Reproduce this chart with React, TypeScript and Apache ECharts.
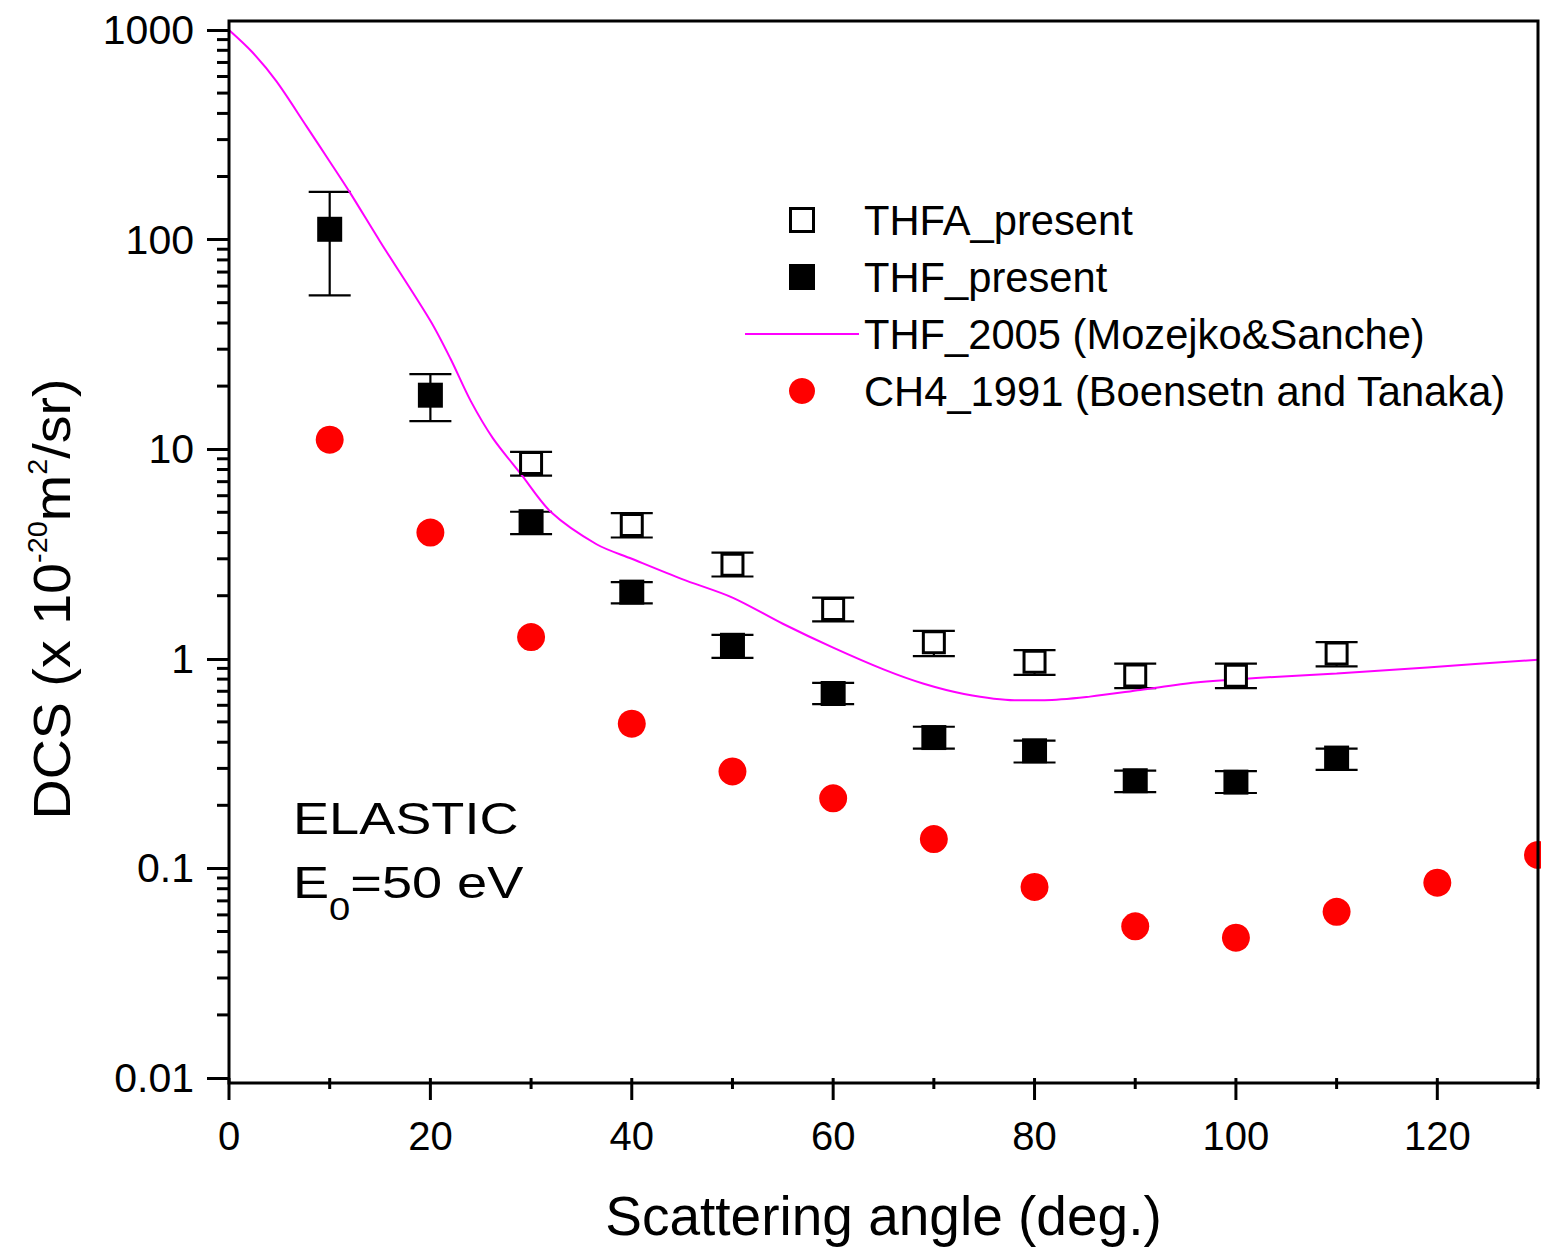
import React, { useEffect, useRef } from 'react';
import * as echarts from 'echarts';

const FONT = '"Liberation Sans", Arial, Helvetica, sans-serif';

// THFA_present (open squares)
const thfaAngles = [30, 40, 50, 60, 70, 80, 90, 100, 110];
const thfaValues = [8.6, 4.35, 2.81, 1.73, 1.2, 0.968, 0.832, 0.83, 1.06];
const thfaHigh = [9.7, 4.96, 3.21, 1.96, 1.36, 1.1, 0.948, 0.948, 1.2];
const thfaLow = [7.48, 3.79, 2.47, 1.51, 1.03, 0.838, 0.724, 0.724, 0.92];

// THF_present (filled squares)
const thfAngles = [10, 20, 30, 40, 50, 60, 70, 80, 90, 100, 110];
const thfValues = [112, 18.1, 4.51, 2.08, 1.16, 0.683, 0.421, 0.364, 0.262, 0.258, 0.336];
const thfHigh = [169, 22.8, 5.03, 2.32, 1.3, 0.767, 0.474, 0.407, 0.293, 0.291, 0.373];
const thfLow = [54.2, 13.6, 3.93, 1.84, 1.01, 0.608, 0.373, 0.32, 0.231, 0.229, 0.295];

// THF_2005 (Mozejko&Sanche) theory curve
const mozAngles = [0, 2.3, 4.7, 7.7, 10, 12, 15, 20, 22, 24, 26.2, 29, 32, 36.5, 40, 45, 50, 55, 60, 65, 69, 73, 78, 81, 85.5, 90.5, 96, 102, 110, 119, 130];
const mozValues = [1000, 785, 570, 347, 236, 168, 98, 41, 27, 17.0, 11.3, 7.6, 5.0, 3.52, 3.0, 2.4, 1.96, 1.47, 1.13, 0.89, 0.76, 0.68, 0.635, 0.635, 0.66, 0.71, 0.77, 0.81, 0.85, 0.91, 0.99];

// CH4_1991 (Boensetn and Tanaka)
const ch4Angles = [10, 20, 30, 40, 50, 60, 70, 80, 90, 100, 110, 120, 130];
const ch4Values = [11.1, 4.0, 1.27, 0.49, 0.29, 0.216, 0.138, 0.0816, 0.0529, 0.0467, 0.0621, 0.0855, 0.116];

// Axis ticks
const xMajorTicks = [0, 20, 40, 60, 80, 100, 120];
const xMinorTicks = [10, 30, 50, 70, 90, 110, 130];
const yDecades = [0.01, 0.1, 1, 10, 100];
const yMinorMantissas = [2, 3, 4, 5, 6, 7, 8, 9];
const yTickLabels = ['0.01', '0.1', '1', '10', '100', '1000'];

const names = ['THFA_present', 'THF_present', 'THF_2005 (Mozejko&Sanche)', 'CH4_1991 (Boensetn and Tanaka)'];

const tickRenderer = (dx1: number, dy1: number, dx2: number, dy2: number) =>
  (params: any, api: any) => {
    const p = api.coord([api.value(0), api.value(1)]);
    return {
      type: 'line',
      shape: { x1: p[0] + dx1, y1: p[1] + dy1, x2: p[0] + dx2, y2: p[1] + dy2 },
      style: { stroke: '#000', lineWidth: 3 },
    };
  };

const errRenderer = (params: any, api: any) => {
  const x = api.value(0);
  const lo = api.coord([x, api.value(1)]);
  const hi = api.coord([x, api.value(2)]);
  const hw = 21;
  const st = { stroke: '#000', lineWidth: 2.2 };
  return {
    type: 'group',
    children: [
      { type: 'line', shape: { x1: lo[0], y1: lo[1], x2: hi[0], y2: hi[1] }, style: st },
      { type: 'line', shape: { x1: lo[0] - hw, y1: lo[1], x2: lo[0] + hw, y2: lo[1] }, style: st },
      { type: 'line', shape: { x1: hi[0] - hw, y1: hi[1], x2: hi[0] + hw, y2: hi[1] }, style: st },
    ],
  };
};

export default function App() {
  const ref = useRef<HTMLDivElement>(null);
  useEffect(() => {
    if (!ref.current) return;
    const chart = echarts.init(ref.current, null, { renderer: 'svg' });

    const yMinor: number[][] = [];
    yDecades.forEach((d) => yMinorMantissas.forEach((m) => yMinor.push([0, +(m * d).toPrecision(3)])));

    const option: any = {
      animation: false,
      backgroundColor: '#fff',
      textStyle: { fontFamily: FONT },
      grid: { left: 229, top: 30, width: 1309, height: 1053 },
      xAxis: {
        type: 'value',
        min: 0,
        max: 130,
        interval: 20,
        axisLine: { show: false },
        axisTick: { show: false },
        splitLine: { show: false },
        axisLabel: { fontSize: 40, color: '#000', fontFamily: FONT, margin: 38, showMaxLabel: false },
        name: 'Scattering angle (deg.)',
        nameLocation: 'middle',
        nameGap: 110,
        nameTextStyle: { fontSize: 55, color: '#000', fontFamily: FONT },
      },
      yAxis: {
        type: 'log',
        logBase: 10,
        min: 0.01,
        max: 1000,
        splitNumber: 5,
        axisLine: { show: false },
        axisTick: { show: true, inside: false, length: 22, lineStyle: { color: '#000', width: 3 } },
        splitLine: { show: false },
        axisLabel: {
          fontSize: 41,
          color: '#000',
          fontFamily: FONT,
          margin: 35,
          formatter: (v: number) => {
            const i = Math.round(Math.log10(v)) + 2;
            return yTickLabels[i] ?? '';
          },
        },
      },
      legend: {
        orient: 'vertical',
        left: 745,
        top: 199,
        padding: 0,
        itemGap: 15,
        itemWidth: 114,
        itemHeight: 26,
        selectedMode: false,
        textStyle: { fontSize: 41.7, color: '#000', fontFamily: FONT },
        data: [
          {
            name: names[0],
            icon: 'path://M0,0L26,0L26,26L0,26Z M3,3L3,23L23,23L23,3Z',
            itemStyle: { color: '#000', borderWidth: 0, opacity: 1 },
          },
          {
            name: names[1],
            icon: 'path://M0,0L26,0L26,26L0,26Z',
            itemStyle: { color: '#000', borderWidth: 0, opacity: 1 },
          },
          {
            name: names[2],
            icon: 'path://M0,0L114,0L114,2.2L0,2.2Z',
            itemStyle: { color: '#ff00ff', borderWidth: 0, opacity: 1 },
          },
          {
            name: names[3],
            icon: 'circle',
            itemStyle: { color: '#ff0000', borderWidth: 0, opacity: 1 },
          },
        ],
      },
      graphic: [
        {
          type: 'rect',
          z: 100,
          silent: true,
          shape: { x: 229, y: 21, width: 1309, height: 1062 },
          style: { fill: 'none', stroke: '#000', lineWidth: 3 },
        },
        {
          type: 'text',
          x: 52,
          y: 599,
          rotation: Math.PI / 2,
          scaleX: 1.07,
          z: 50,
          style: {
            text: '{m|DCS (x 10}{s|-20}{m|m}{s|2}{m|/sr)}',
            fontFamily: FONT,
            fill: '#000',
            align: 'center',
            verticalAlign: 'middle',
            rich: {
              m: { fontSize: 52, lineHeight: 56, fontFamily: FONT, fill: '#000' },
              s: { fontSize: 27, lineHeight: 27, verticalAlign: 'top', fontFamily: FONT, fill: '#000' },
            },
          },
        },
        {
          type: 'text',
          x: 293,
          y: 818,
          scaleX: 1.23,
          z: 50,
          style: {
            text: 'ELASTIC',
            fontSize: 44,
            fontFamily: FONT,
            fill: '#000',
            align: 'left',
            verticalAlign: 'middle',
          },
        },
        {
          type: 'text',
          x: 293,
          y: 882,
          scaleX: 1.23,
          z: 50,
          style: {
            text: '{m|E}{s|0}{m|=50 eV}',
            fontFamily: FONT,
            fill: '#000',
            align: 'left',
            verticalAlign: 'middle',
            rich: {
              m: { fontSize: 44, lineHeight: 86, fontFamily: FONT, fill: '#000' },
              s: { fontSize: 31, lineHeight: 31, verticalAlign: 'bottom', fontFamily: FONT, fill: '#000' },
            },
          },
        },
      ],
      series: [
        {
          name: 'xMajorTicks',
          type: 'custom',
          silent: true,
          z: 20,
          renderItem: tickRenderer(0, 0, 0, 22),
          data: xMajorTicks.map((x) => [x, 0.01]),
        },
        {
          name: 'xMinorTicks',
          type: 'custom',
          silent: true,
          z: 20,
          renderItem: tickRenderer(0, 0, 0, 11),
          data: xMinorTicks.map((x) => [x, 0.01]),
        },
        {
          name: 'yMinorTicks',
          type: 'custom',
          silent: true,
          z: 20,
          renderItem: tickRenderer(-12, 0, 0, 0),
          data: yMinor,
        },
        {
          name: 'thfaErr',
          type: 'custom',
          silent: true,
          z: 2,
          renderItem: errRenderer,
          encode: { x: 0, y: [1, 2] },
          data: thfaAngles.map((a, i) => [a, thfaLow[i], thfaHigh[i]]),
        },
        {
          name: 'thfErr',
          type: 'custom',
          silent: true,
          z: 2,
          renderItem: errRenderer,
          encode: { x: 0, y: [1, 2] },
          data: thfAngles.map((a, i) => [a, thfLow[i], thfHigh[i]]),
        },
        {
          name: names[2],
          type: 'line',
          z: 3,
          symbol: 'none',
          smooth: 0.3,
          color: '#ff00ff',
          lineStyle: { color: '#ff00ff', width: 2 },
          data: mozAngles.map((a, i) => [a, mozValues[i]]),
        },
        {
          name: names[3],
          type: 'scatter',
          z: 4,
          symbol: 'circle',
          symbolSize: 28,
          itemStyle: { color: '#ff0000', opacity: 1 },
          data: ch4Angles.map((a, i) => [a, ch4Values[i]]),
        },
        {
          name: names[0],
          type: 'scatter',
          z: 5,
          symbol: 'rect',
          symbolSize: 21,
          itemStyle: { color: '#ffffff', borderColor: '#000', borderWidth: 3, opacity: 1 },
          data: thfaAngles.map((a, i) => [a, thfaValues[i]]),
        },
        {
          name: names[1],
          type: 'scatter',
          z: 5,
          symbol: 'rect',
          symbolSize: 25,
          itemStyle: { color: '#000', opacity: 1 },
          data: thfAngles.map((a, i) => [a, thfValues[i]]),
        },
      ],
    };
    chart.setOption(option);
    return () => chart.dispose();
  }, []);
  return (
    <div
      ref={ref}
      style={{ position: 'absolute', left: 0, top: 0, width: 1541, height: 1248, background: '#fff' }}
    />
  );
}
